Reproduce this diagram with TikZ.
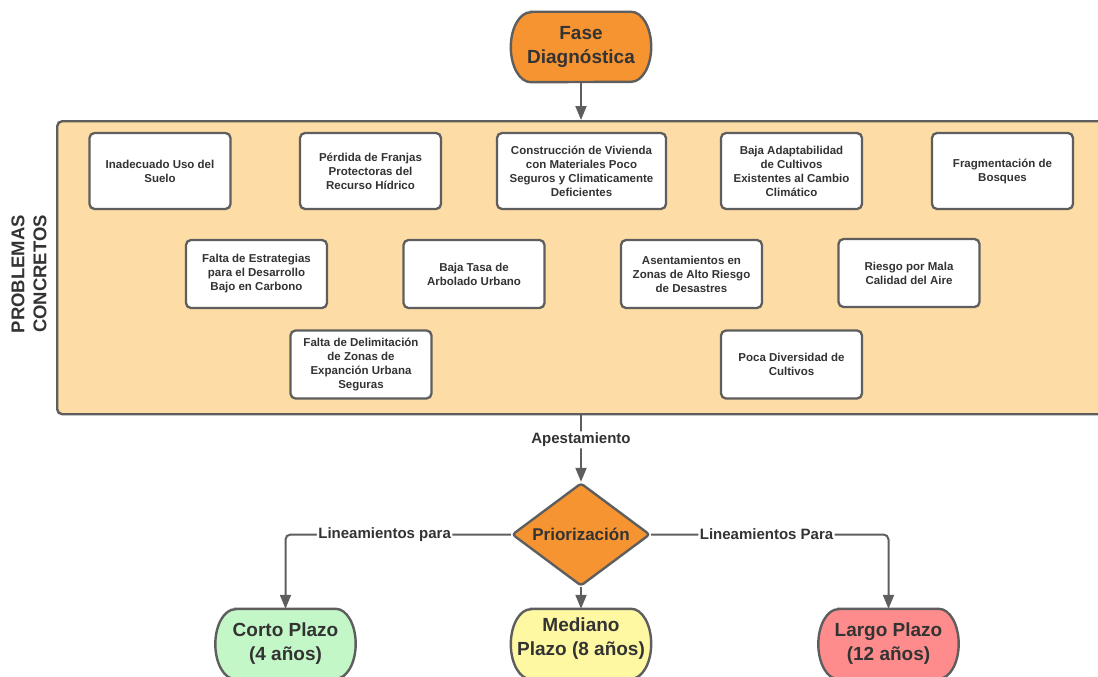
\documentclass[tikz,border=0pt]{standalone}
\usepackage{fontspec}
\setmainfont{Liberation Sans}
\usetikzlibrary{arrows.meta,shapes.geometric,backgrounds}
\definecolor{edgegray}{HTML}{5E5E5E}
\definecolor{txt}{HTML}{333333}
\definecolor{orangefill}{HTML}{F79432}
\definecolor{peach}{HTML}{FDDCA6}
\definecolor{greenfill}{HTML}{C3F7C8}
\definecolor{yellowfill}{HTML}{FFF8A3}
\definecolor{redfill}{HTML}{FF8C8C}
\newcommand\termshape[3]{%
  \begin{scope}[on background layer]
    \filldraw[draw=edgegray, line width=2.4pt, fill=#2]
      ([xshift=20pt,yshift=#3]#1.north west) -- ([xshift=-20pt,yshift=#3]#1.north east)
      arc[start angle=90,end angle=-90,x radius=20pt,y radius=35pt]
      -- ([xshift=20pt,yshift=#3]#1.south west)
      arc[start angle=270,end angle=90,x radius=20pt,y radius=35pt] -- cycle;
  \end{scope}}
\tikzset{
  term/.style={minimum width=140pt, minimum height=70pt, inner sep=0pt, align=center,
    text=txt, font=\fontsize{19}{24}\selectfont\bfseries},
  prob/.style={draw=edgegray, line width=2.3pt, fill=white, rounded corners=5pt,
    minimum width=141pt, inner sep=0pt, align=center, text=txt,
    font=\fontsize{11.5}{14}\selectfont\bfseries},
  conn/.style={draw=edgegray, line width=2pt, -{Triangle[length=14pt,width=11pt]}, rounded corners=5pt},
  lbl/.style={fill=white, inner sep=1.5pt, text=txt, font=\fontsize{15}{18}\selectfont\bfseries}
}
\begin{document}
\begin{tikzpicture}[x=1pt,y=-1pt]
\useasboundingbox (0,0) rectangle (1098,677);
\clip (0,0) rectangle (1098,677);

% container
\node[draw=edgegray, line width=2.4pt, fill=peach, rounded corners=5pt,
  minimum width=1060pt, minimum height=293pt, anchor=north west, inner sep=0pt] (probs) at (56,120) {};
\node[rotate=90, align=center, text=txt, font=\fontsize{18.5}{22}\selectfont\bfseries] (pc) at (29,274) {PROBLEMAS\\CONCRETOS};

% row 1
\node[prob, minimum height=76pt] (b1) at (160,171) {Inadecuado Uso del\\Suelo};
\node[prob, minimum height=76pt] (b2) at (370.5,171) {Pérdida de Franjas\\Protectoras del\\Recurso Hídrico};
\node[prob, minimum height=76pt, minimum width=169pt] (b3) at (581.5,171) {Construcción de Vivienda\\con Materiales Poco\\Seguros y Climaticamente\\Deficientes};
\node[prob, minimum height=76pt] (b4) at (791.5,171) {Baja Adaptabilidad\\de Cultivos\\Existentes al Cambio\\Climático};
\node[prob, minimum height=76pt] (b5) at (1002.5,171) {Fragmentación de\\Bosques};
% row 2
\node[prob, minimum height=68pt] (b6) at (256.5,274) {Falta de Estrategias\\para el Desarrollo\\Bajo en Carbono};
\node[prob, minimum height=68pt] (b7) at (474,274) {Baja Tasa de\\Arbolado Urbano};
\node[prob, minimum height=68pt] (b8) at (691.5,274) {Asentamientos en\\Zonas de Alto Riesgo\\de Desastres};
\node[prob, minimum height=68pt] (b9) at (909,273) {Riesgo por Mala\\Calidad del Aire};
% row 3
\node[prob, minimum height=68pt] (b10) at (361,364.5) {Falta de Delimitación\\de Zonas de\\Expanción Urbana\\Seguras};
\node[prob, minimum height=68pt] (b11) at (791.5,364.5) {Poca Diversidad de\\Cultivos};

% terminators
\node[term] (fase) at (581,47) {Fase\\Diagnóstica};
\termshape{fase}{orangefill}{0pt}
\node[term] (corto) at (285.5,644) {Corto Plazo\\(4 años)};
\termshape{corto}{greenfill}{0pt}
\node[term] (med) at (581,639) {Mediano\\Plazo (8 años)};
\termshape{med}{yellowfill}{-5pt}
\node[term] (largo) at (888.5,644) {Largo Plazo\\(12 años)};
\termshape{largo}{redfill}{0pt}

% decision
\node[diamond, draw=edgegray, line width=2.4pt, fill=orangefill, minimum width=138pt,
  minimum height=103pt, inner sep=0pt, aspect=1.34, rounded corners=3pt, text=txt,
  font=\fontsize{17}{20}\selectfont\bfseries] (prior) at (581,534.5) {Priorización};

% connectors
\draw[conn] (fase.south) -- (fase.south |- probs.north);
\draw[conn] (prior.north |- probs.south) -- node[lbl, pos=0.37] {Apestamiento} (prior.north);
\draw[conn] (prior.west) -| node[lbl, pos=0.28] {Lineamientos para} (corto.north);
\draw[conn] (prior.east) -| node[lbl, pos=0.243] {Lineamientos Para} (largo.north);
\draw[conn] (prior.south) -- ([yshift=-5pt]med.north);
\end{tikzpicture}
\end{document}
